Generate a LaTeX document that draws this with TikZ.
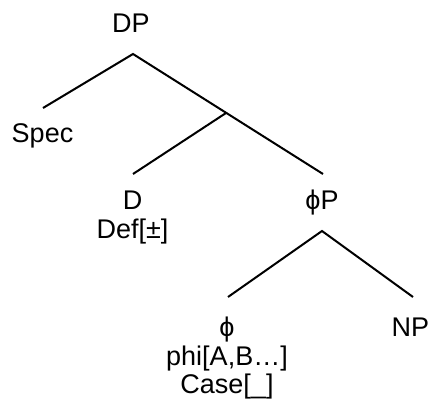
\documentclass[tikz,border=0pt]{standalone}
\usepackage{fontspec}
\setmainfont{Liberation Sans}
\begin{document}
\begin{tikzpicture}[x=1pt,y=1pt,
  lbl/.style={inner sep=0pt, anchor=base, font=\fontsize{27}{28.5}\selectfont},
  edge/.style={line width=2pt}]
\useasboundingbox (0,0) rectangle (429,402);
% labels
\node[lbl] (DP) at (131,369) {DP};
\node[lbl] (Spec) at (42.5,259) {Spec};
\node[lbl] (D) at (132.5,192) {\begin{tabular}[t]{@{}c@{}}D\\Def[±]\end{tabular}};
\node[lbl] (phiP) at (322,192) {ϕP};
\node[lbl] (phi) at (227,65) {\begin{tabular}[t]{@{}c@{}}ϕ\\phi[A,B…]\\Case[\_]\end{tabular}};
\node[lbl] (NP) at (410.5,65) {NP};
% branch points
\coordinate (dpA) at (133,348);
\coordinate (specT) at (43,294);
\coordinate (bar) at (226,289);
\coordinate (dT) at (133,228);
\coordinate (phipT) at (323,228);
\coordinate (phipA) at (322,171);
\coordinate (phiT) at (228,105);
\coordinate (npT) at (413,105);
% edges
\draw[edge] (specT) -- (dpA) -- (phipT);
\draw[edge] (dT) -- (bar);
\draw[edge] (phiT) -- (phipA) -- (npT);
\end{tikzpicture}
\end{document}
